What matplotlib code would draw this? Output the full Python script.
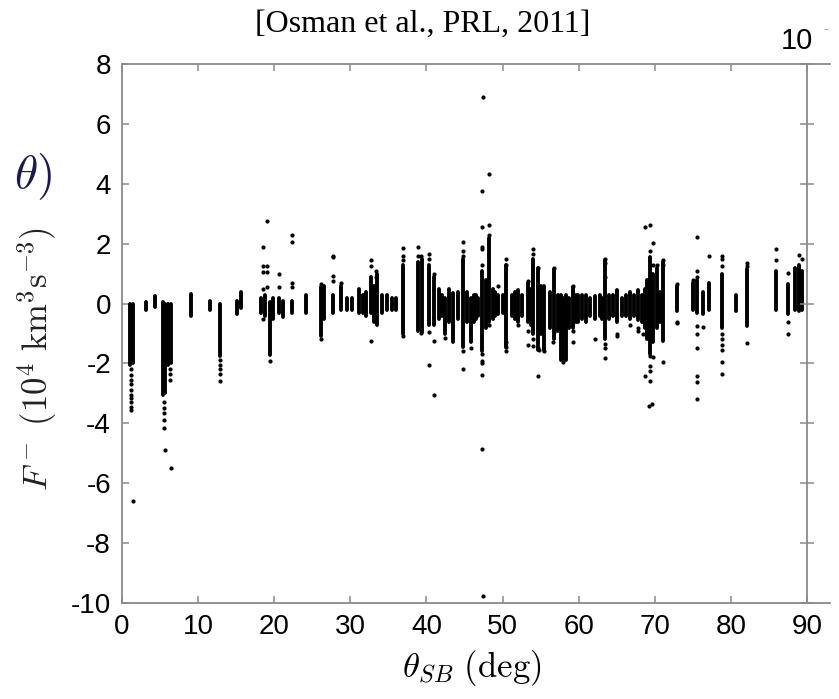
import matplotlib
matplotlib.use("Agg")
import matplotlib.pyplot as plt

plt.rcParams['mathtext.fontset'] = 'cm'
plt.rcParams['axes.unicode_minus'] = False

# dense columns of points: angle (deg), lowest and highest value (10^4 km^3 s^-3)
col_x = [1.0, 1.5, 3.2, 4.3, 5.4, 5.7, 6.1, 6.5, 9.0, 11.6, 12.9, 15.1, 15.6,
         18.3, 18.8, 19.4, 19.8, 20.6, 21.2, 22.4, 24.2, 26.1, 26.6, 27.7, 28.8,
         29.6, 30.2, 31.2, 31.6, 32.0, 32.7, 33.1, 33.5, 34.2, 34.8, 35.5, 36.0,
         36.9, 38.9, 39.4, 40.3, 41.0, 41.6, 42.0, 42.4, 43.0, 43.5, 44.2, 44.8,
         45.3, 45.9, 46.2, 46.5, 46.8, 47.3, 47.8, 48.2, 48.7, 49.0, 49.4, 50.0,
         50.5, 51.2, 51.6, 52.0, 52.6, 53.3, 53.7, 54.0, 54.6, 55.1, 55.5, 56.2,
         56.8, 57.3, 57.7, 58.0, 58.3, 58.7, 59.2, 59.6, 59.9, 60.5, 61.0, 61.5,
         62.1, 62.8, 63.0, 63.4, 64.0, 64.5, 65.0, 65.7, 66.2, 66.7, 67.3, 67.8,
         68.3, 68.7, 69.0, 69.4, 69.8, 70.3, 70.7, 71.1, 72.9, 75.0, 75.6, 76.4,
         77.1, 78.8, 80.7, 82.1, 85.9, 87.5, 88.4, 88.9, 89.3]
col_lo = [-2.05, -2.0, -0.2, -0.1, -3.05, -3.0, -2.05, -2.0, -0.4, -0.2, -1.75, -0.35, -0.15,
          -0.3, -0.4, -1.72, -0.5, -0.3, -0.45, -0.3, -0.3, -1.1, -0.5, -0.3, -0.2,
          -0.2, -0.2, -0.3, -0.3, -0.4, -0.3, -0.6, -0.7, -0.3, -0.2, -0.2, -0.2,
          -1.0, -0.9, -0.95, -0.7, -0.7, -0.5, -0.4, -1.0, -0.6, -1.3, -0.5, -1.45,
          -0.6, -1.3, -0.6, -0.5, -0.4, -1.6, -0.8, -0.6, -0.5, -0.4, -0.35, -0.3,
          -1.45, -0.4, -0.5, -0.63, -0.4, -0.6, -0.7, -1.0, -1.55, -1.0, -1.55, -0.8,
          -1.2, -0.9, -1.9, -1.85, -1.9, -0.8, -0.8, -0.6, -0.6, -0.5, -0.6, -0.4,
          -0.5, -0.4, -0.5, -1.2, -0.5, -0.4, -0.6, -0.4, -0.4, -0.5, -0.4, -0.55,
          -0.6, -0.8, -1.2, -1.7, -1.3, -0.8, -0.6, -1.25, -0.25, -0.2, -0.3, -0.35,
          -0.2, -0.8, -0.25, -0.75, -0.22, -0.36, -0.2, -0.25, -0.2]
col_hi = [0.0, 0.0, 0.05, 0.25, 0.05, 0.0, 0.0, 0.0, 0.33, 0.1, 0.0, 0.1, 0.4,
          0.2, 0.3, 0.05, 0.2, 0.2, 0.1, 0.1, 0.3, 0.55, 0.6, 0.3, 0.6,
          0.2, 0.2, 0.5, 0.3, 0.4, 0.9, 0.6, 1.0, 0.3, 0.3, 0.2, 0.2,
          1.3, 1.4, 1.5, 1.3, 0.9, 0.5, 0.3, 0.2, 0.5, 0.35, 0.4, 1.5,
          0.4, 0.2, 0.3, 0.3, 0.2, 1.1, 0.8, 2.2, 0.5, 0.4, 0.3, 0.3,
          1.3, 0.3, 0.4, 0.45, 0.3, 0.7, 0.5, 1.5, 1.2, 0.6, 0.6, 0.4,
          1.15, 0.3, 0.3, 0.2, 0.3, 0.2, 0.55, 0.3, 0.3, 0.3, 0.3, 0.2,
          0.25, 0.3, 0.2, 1.45, 0.3, 0.3, 0.45, 0.2, 0.3, 0.4, 0.3, 0.45,
          0.3, 0.5, 0.8, 1.55, 1.0, 1.2, 0.4, 1.4, 0.6, 0.7, 0.8, 0.4,
          0.7, 1.0, 0.3, 1.15, 1.1, 0.65, 1.2, 1.3, 1.1]

# isolated points
pt_x = [1.2, 1.2, 1.2, 1.2, 1.2, 1.2, 1.2, 1.2, 1.2, 1.2, 1.4,
        5.5, 5.5, 5.5, 5.5, 5.5, 5.6, 6.3, 6.3, 6.3, 6.4,
        12.9, 12.9, 12.9, 12.9, 12.9,
        18.5, 18.5, 18.5, 18.5, 18.5, 19.0, 19.0, 19.0, 19.0, 19.4,
        20.6, 20.6, 22.4, 22.4, 22.4, 22.4, 26.1, 26.1,
        27.7, 27.7, 27.7, 27.7, 28.8, 32.7, 32.7, 32.7, 33.4, 33.4,
        36.9, 36.9, 36.9, 36.9, 38.9, 38.9, 39.3, 39.3,
        40.3, 40.3, 40.3, 40.3, 41.0, 41.0, 41.0, 42.4,
        44.8, 44.8, 44.8, 44.8, 44.8, 45.9,
        47.4, 47.3, 47.3, 47.3, 47.3, 47.3, 47.3, 47.3, 47.3, 47.3, 47.3, 47.4,
        48.2, 48.2, 48.2, 48.2, 49.4,
        50.5, 50.5, 50.5, 50.5, 50.5, 52.0, 53.3, 53.3, 53.3,
        54.0, 54.0, 54.0, 54.0, 54.6, 54.6, 54.6, 54.8, 55.5,
        56.8, 56.8, 56.6, 57.9, 59.2, 59.2, 59.2, 62.1,
        63.4, 63.4, 63.4, 63.4, 63.4, 63.4, 65.0, 65.0, 66.7, 67.8, 67.8,
        68.7, 68.7, 68.5, 69.4, 69.4, 69.4, 69.4, 69.4, 69.4, 69.3, 69.6,
        69.8, 69.8, 69.8, 70.3, 71.1, 71.1, 71.1, 72.9, 72.9, 72.9,
        75.0, 75.6, 75.6, 75.6, 75.6, 75.6, 75.6, 75.6, 75.6, 75.6, 76.4, 77.1,
        78.8, 78.8, 78.8, 78.8, 78.8, 78.8, 78.8, 78.8, 78.8,
        82.1, 82.1, 82.1, 85.9, 85.9, 87.5, 87.5, 87.5, 88.9, 89.3]
pt_y = [-2.2, -2.4, -2.55, -2.7, -2.9, -3.05, -3.15, -3.3, -3.45, -3.55, -6.6,
        -3.3, -3.5, -3.65, -3.9, -4.15, -4.9, -2.2, -2.35, -2.55, -5.5,
        -1.9, -2.05, -2.2, -2.35, -2.6,
        1.9, 1.25, 1.05, 0.5, -0.5, 2.75, 1.25, 1.05, 0.55, -1.93,
        1.0, 0.55, 2.28, 2.07, 0.67, 0.55, -1.2, 0.65,
        1.6, 1.55, 0.92, 0.75, 0.7, 1.45, 1.25, -1.25, 1.1, 0.9,
        1.87, 1.6, 1.45, -1.08, 1.9, 1.6, 1.6, -0.97,
        1.64, 1.5, -2.05, -0.95, -1.25, -3.05, 1.0, -1.15,
        2.07, 1.75, 1.6, -1.6, -2.2, -1.5,
        6.9, 3.76, 2.55, 1.9, 1.82, 1.3, -1.7, -1.93, -2.0, -2.4, -4.85, -9.75,
        4.33, 2.62, 2.3, -0.7, 0.59,
        1.48, 1.3, -1.3, -1.6, -1.45, -0.7, 0.75, -0.9, -1.4,
        1.83, 1.65, -1.2, -1.43, 1.2, -1.5, -2.42, -1.55, -1.58,
        1.2, -0.95, -1.3, -1.95, 0.6, -0.9, -1.3, -1.19,
        1.48, 1.35, 0.9, -1.35, -1.5, -1.83, -1.0, -1.1, -0.7, -0.9, -0.8,
        2.55, -2.42, -1.0, 2.64, 1.75, -1.75, -2.08, -2.24, -2.58, -3.41, -3.36,
        2.02, 1.3, -1.8, 1.3, 1.45, 1.3, -1.94, 0.65, -0.6, -0.65,
        0.8, 2.23, 1.09, 0.9, -0.75, -1.0, -1.47, -2.41, -2.61, -3.19, -0.77, 1.58,
        1.6, 1.48, 1.25, -1.0, -1.2, -1.4, -1.55, -1.94, -2.36,
        1.37, 1.25, -1.33, 1.81, 1.44, 1.01, -0.63, -1.0, 1.61, 1.48]

x_ticks = list(range(0, 91, 10))
y_ticks = list(range(-10, 9, 2))

W, H = 839, 699
fig = plt.figure(figsize=(W / 100, H / 100), dpi=100)
ax = fig.add_axes([122 / W, 1 - 603 / H, 685 / W, 539 / H])

lc = ax.vlines(col_x, col_lo, col_hi, colors='black', linewidth=2.8)
lc.set_capstyle('round')
ax.scatter(pt_x, pt_y, s=9, color='black', linewidths=0)

ax.set_xlim(0, 90)
ax.set_ylim(-10, 8)
ax.set_xticks(x_ticks)
ax.set_yticks(y_ticks)
for s in ax.spines.values():
    s.set_color('#8a8a8a')
    s.set_linewidth(1.3)
ax.tick_params(direction='in', length=5, width=1.1, color='#8a8a8a',
               labelsize=20, top=True, right=False, pad=8)
for lab in ax.get_xticklabels() + ax.get_yticklabels():
    lab.set_family('Liberation Sans')

# right side ticks cross the spine
ax2 = ax.twinx()
ax2.set_ylim(-10, 8)
ax2.set_yticks(y_ticks)
ax2.tick_params(direction='inout', length=10, width=1.1, color='#8a8a8a',
                labelright=False)
for s in ax2.spines.values():
    s.set_visible(False)

ax.set_xlabel(r'$\theta_{SB}\ (\mathrm{deg})$', fontsize=25)
ax.xaxis.set_label_coords(0.511, -0.083)
ax.set_ylabel(r'$F^-\ (10^4\ \mathrm{km}^3\mathrm{s}^{-3})$', fontsize=25,
              color='#222222')
ax.yaxis.set_label_coords(-0.092, 0.453)

# frame lines continue past the right edge
fig.add_artist(plt.Line2D([807 / W, 830 / W], [1 - 64 / H, 1 - 64 / H],
                          color='#8a8a8a', lw=1.3))
fig.add_artist(plt.Line2D([807 / W, 830 / W], [1 - 603 / H, 1 - 603 / H],
                          color='#8a8a8a', lw=1.3))

fig.text(423 / W, 1 - 24 / H, '[Osman et al., PRL, 2011]', ha='center', va='center',
         fontsize=23, family='Liberation Serif')
fig.text(813 / W, 1 - 41 / H, '10', ha='right', va='center', fontsize=21,
         family='Liberation Sans')
fig.text(823 / W, 1 - 29 / H, '-', ha='left', va='center', fontsize=10,
         color='#999999', family='Liberation Sans')
fig.text(14 / W, 1 - 177 / H, r'$\theta)$', ha='left', va='center', fontsize=34,
         color='#1b1b4b')

fig.savefig('out.png', dpi=100)
